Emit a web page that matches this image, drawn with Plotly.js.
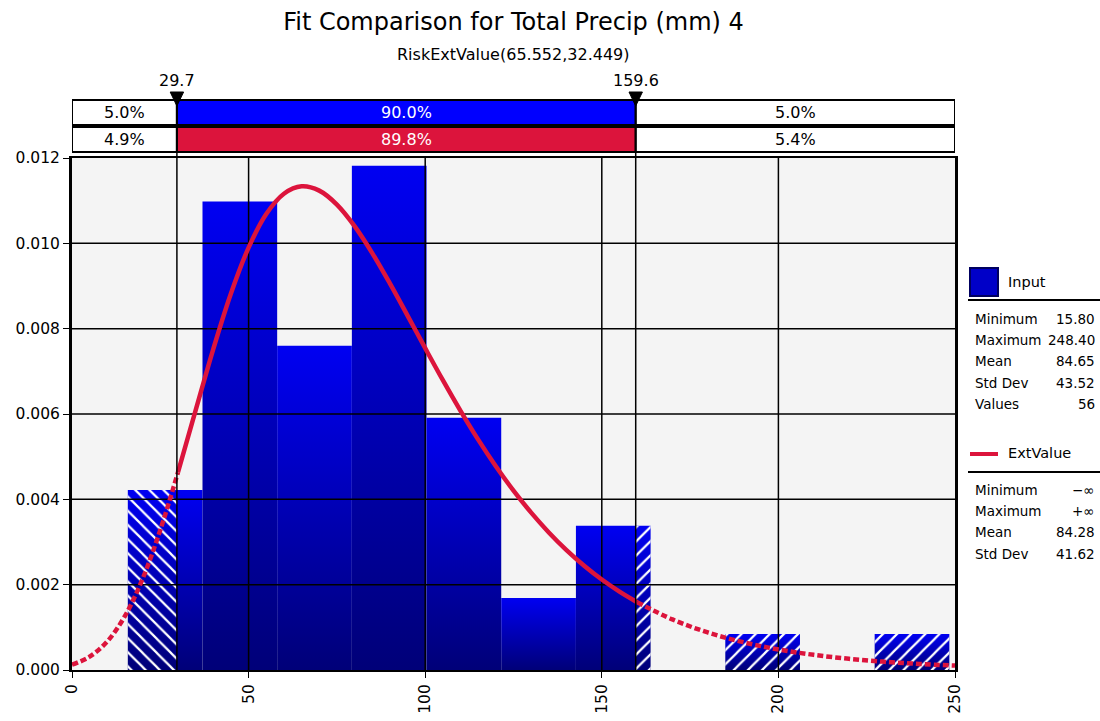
<!DOCTYPE html>
<html><head><meta charset="utf-8">
<script src="https://cdn.plot.ly/plotly-3.0.1.min.js"></script>
<style>body{margin:0;background:#fff}#chart{width:1100px;height:721px}</style>
</head><body><div id="chart"></div><script>
// ---- data ----
const chartTitle = "Fit Comparison for Total Precip (mm) 4";
const fitLabel = "RiskExtValue(65.552,32.449)";
const binEdges = [15.8, 36.945, 58.09, 79.236, 100.382, 121.527, 142.673, 163.818, 184.964, 206.109, 227.255, 248.4];
const binDensity = [0.00422, 0.01098, 0.0076, 0.01182, 0.00591, 0.00169, 0.00338, 0, 0.000845, 0, 0.000845];
const fitX = [0,5,10,15,20,25,30,35,40,45,50,55,60,65,70,75,80,85,90,95,100,105,110,115,120,125,130,135,140,145,150,155,160,170,180,190,200,210,220,230,240,250];
const fitY = [0.000123,0.000311,0.00067,0.001267,0.00214,0.003283,0.004631,0.006085,0.007522,0.008825,0.0099,0.010687,0.011163,0.011336,0.011235,0.010908,0.010403,0.009772,0.00906,0.008307,0.007543,0.006793,0.006075,0.0054,0.004776,0.004204,0.003688,0.003224,0.002809,0.002443,0.00212,0.001837,0.001589,0.001185,0.00088,0.000652,0.000481,0.000355,0.000262,0.000193,0.000142,0.000104];
const markers = [29.7, 159.6];
const markerLabels = ["29.7", "159.6"];
const inputPct = ["5.0%", "90.0%", "5.0%"];
const fitPct = ["4.9%", "89.8%", "5.4%"];
const inputName = "Input";
const fitName = "ExtValue";
const statLabels1 = ["Minimum", "Maximum", "Mean", "Std Dev", "Values"];
const statValues1 = ["15.80", "248.40", "84.65", "43.52", "56"];
const statLabels2 = ["Minimum", "Maximum", "Mean", "Std Dev"];
const statValues2 = ["\u2212\u221e", "+\u221e", "84.28", "41.62"];
const xTicks = [0, 50, 100, 150, 200, 250];
const yTicks = [0, 0.002, 0.004, 0.006, 0.008, 0.010, 0.012];

// ---- geometry helpers ----
const L = 72, R = 955, T = 158, B = 670;
const px = v => (v - L) / (R - L);
const py = v => (B - v) / (B - T);
const FONT = "DejaVu Sans, Verdana, sans-serif";
const BLUE = "#0000ff", RED = "#dc143c";

const traces = [];
// histogram bars with vertical gradient
for (let i = 0; i < binDensity.length; i++) {
  const d = binDensity[i]; if (!d) continue;
  const x0 = binEdges[i], x1 = binEdges[i + 1];
  traces.push({type: "scatter", mode: "lines", x: [x0, x0, x1, x1, x0], y: [0, d, d, 0, 0],
    fill: "toself", line: {width: 0, color: "rgba(0,0,0,0)"},
    fillgradient: {type: "vertical", colorscale: [[0, "#000078"], [1, "#0000f2"]]},
    hoverinfo: "skip", showlegend: false});
}
// hatched tails
for (let i = 0; i < binDensity.length; i++) {
  const d = binDensity[i]; if (!d) continue;
  const x0 = binEdges[i], x1 = binEdges[i + 1];
  const segs = [];
  if (x0 < markers[0]) segs.push([x0, Math.min(x1, markers[0]), "\\"]);
  if (x1 > markers[1]) segs.push([Math.max(x0, markers[1]), x1, "/"]);
  segs.forEach(s => traces.push({type: "scatter", mode: "lines",
    x: [s[0], s[0], s[1], s[1], s[0]], y: [0, d, d, 0, 0], fill: "toself",
    line: {width: 0, color: "rgba(0,0,0,0)"}, fillcolor: "rgba(0,0,0,0)",
    fillpattern: {shape: s[2], fgcolor: "#ffffff", bgcolor: "rgba(0,0,0,0)", size: 10, solidity: 0.22},
    hoverinfo: "skip", showlegend: false}));
}
// grid lines (drawn over bars)
const gx = [], gy = [];
xTicks.slice(1, -1).forEach(v => { gx.push(v, v, null); gy.push(0, 0.012, null); });
yTicks.slice(1, -1).forEach(v => { gx.push(0, 250, null); gy.push(v, v, null); });
traces.push({type: "scatter", mode: "lines", x: gx, y: gy, line: {color: "#000", width: 1.5},
  hoverinfo: "skip", showlegend: false});
// fitted curve: solid in the body, dashed in the tails
const iL = fitX.indexOf(30), iR = fitX.indexOf(160);
const segStyle = [[0, iL + 1, "6px,3px"], [iL, iR + 1, "solid"], [iR, fitX.length, "6px,3px"]];
segStyle.forEach(([a, b, dash]) => traces.push({type: "scatter", mode: "lines",
  x: fitX.slice(a, b), y: fitY.slice(a, b), line: {color: RED, width: 4.5, shape: "spline", dash: dash},
  hoverinfo: "skip", showlegend: false}));

const shapes = [], annotations = [];
function txt(x, y, text, opts) {
  annotations.push(Object.assign({xref: "paper", yref: "paper", x: x, y: y, text: text, showarrow: false,
    xanchor: "center", yanchor: "middle", font: {size: 16, color: "#000", family: FONT}}, opts || {}));
}
// percentile boxes
const rows = [[inputPct, BLUE, 1.1133, 1.0645], [fitPct, RED, 1.0605, 1.0117]];
const bounds = [0, markers[0], markers[1], 250];
rows.forEach(([pcts, col, y1, y0]) => {
  for (let k = 0; k < 3; k++) {
    shapes.push({type: "rect", xref: "x", yref: "paper", x0: bounds[k], x1: bounds[k + 1], y0: y0, y1: y1,
      fillcolor: k === 1 ? col : "#ffffff", line: {color: "#000", width: 2}, layer: "above"});
    txt((bounds[k] + bounds[k + 1]) / 2, (y0 + y1) / 2, pcts[k],
      {xref: "x", font: {size: 16, color: k === 1 ? "#fff" : "#000", family: FONT}});
  }
});
// marker lines, triangles, labels
markers.forEach((m, k) => {
  shapes.push({type: "line", xref: "x", yref: "paper", x0: m, x1: m, y0: 0, y1: 1.1133,
    line: {color: "#000", width: 1.5}, layer: "above"});
  shapes.push({type: "path", xref: "x", yref: "paper",
    path: `M ${m - 1.9},1.1289 L ${m + 1.9},1.1289 L ${m},1.1016 Z`,
    fillcolor: "#000", line: {color: "#000", width: 1}, layer: "above"});
  txt(m, py(80), markerLabels[k], {xref: "x"});
});
// subtitle
txt(0.5, py(54), fitLabel, {font: {size: 16, color: "#000", family: FONT}});
// legend panel
shapes.push({type: "rect", xref: "paper", yref: "paper", x0: px(970), x1: px(998), y0: py(296), y1: py(268),
  fillcolor: "#0000c8", line: {color: "#000060", width: 2}});
txt(px(1006), py(282), inputName, {xanchor: "left", font: {size: 14.5, color: "#000", family: FONT}});
shapes.push({type: "line", xref: "paper", yref: "paper", x0: px(968), x1: px(1100), y0: py(300), y1: py(300),
  line: {color: "#000", width: 2}});
statLabels1.forEach((s, i) => {
  const y = py(319 + i * 21.2);
  txt(px(973), y, s, {xanchor: "left", font: {size: 13.5, color: "#000", family: FONT}});
  txt(px(1097), y, statValues1[i], {xanchor: "right", font: {size: 13.5, color: "#000", family: FONT}});
});
shapes.push({type: "line", xref: "paper", yref: "paper", x0: px(970), x1: px(998), y0: py(454), y1: py(454),
  line: {color: RED, width: 4}});
txt(px(1006), py(453), fitName, {xanchor: "left", font: {size: 14.5, color: "#000", family: FONT}});
shapes.push({type: "line", xref: "paper", yref: "paper", x0: px(968), x1: px(1100), y0: py(472), y1: py(472),
  line: {color: "#000", width: 2}});
statLabels2.forEach((s, i) => {
  const y = py(490 + i * 21.2);
  txt(px(973), y, s, {xanchor: "left", font: {size: 13.5, color: "#000", family: FONT}});
  txt(px(1097), y, statValues2[i], {xanchor: "right", font: {size: 13.5, color: "#000", family: FONT}});
});

const layout = {
  width: 1100, height: 721,
  margin: {l: L, r: 1100 - R, t: T, b: 721 - B, pad: 0},
  paper_bgcolor: "#ffffff", plot_bgcolor: "#f4f4f4",
  font: {family: FONT, size: 16, color: "#000"},
  showlegend: false,
  title: {text: chartTitle, x: 0.5, xref: "paper", y: 1 - 22 / 721, yanchor: "middle",
    font: {size: 24, family: FONT, color: "#000"}},
  xaxis: {range: [0, 250], tickvals: xTicks, ticktext: xTicks.map(String), tickangle: -90,
    showgrid: false, zeroline: false, showline: true, mirror: true, linecolor: "#000", linewidth: 2,
    ticks: "outside", ticklen: 6, tickcolor: "#000", tickfont: {size: 15.5, family: FONT}},
  yaxis: {range: [0, 0.012], tickvals: yTicks, ticktext: yTicks.map(v => v.toFixed(3)),
    showgrid: false, zeroline: false, showline: true, mirror: true, linecolor: "#000", linewidth: 3,
    ticks: "outside", ticklen: 6, tickcolor: "#000", tickfont: {size: 15.5, family: FONT}},
  shapes: shapes, annotations: annotations
};
Plotly.newPlot("chart", traces, layout, {displayModeBar: false, staticPlot: true});
</script></body></html>
